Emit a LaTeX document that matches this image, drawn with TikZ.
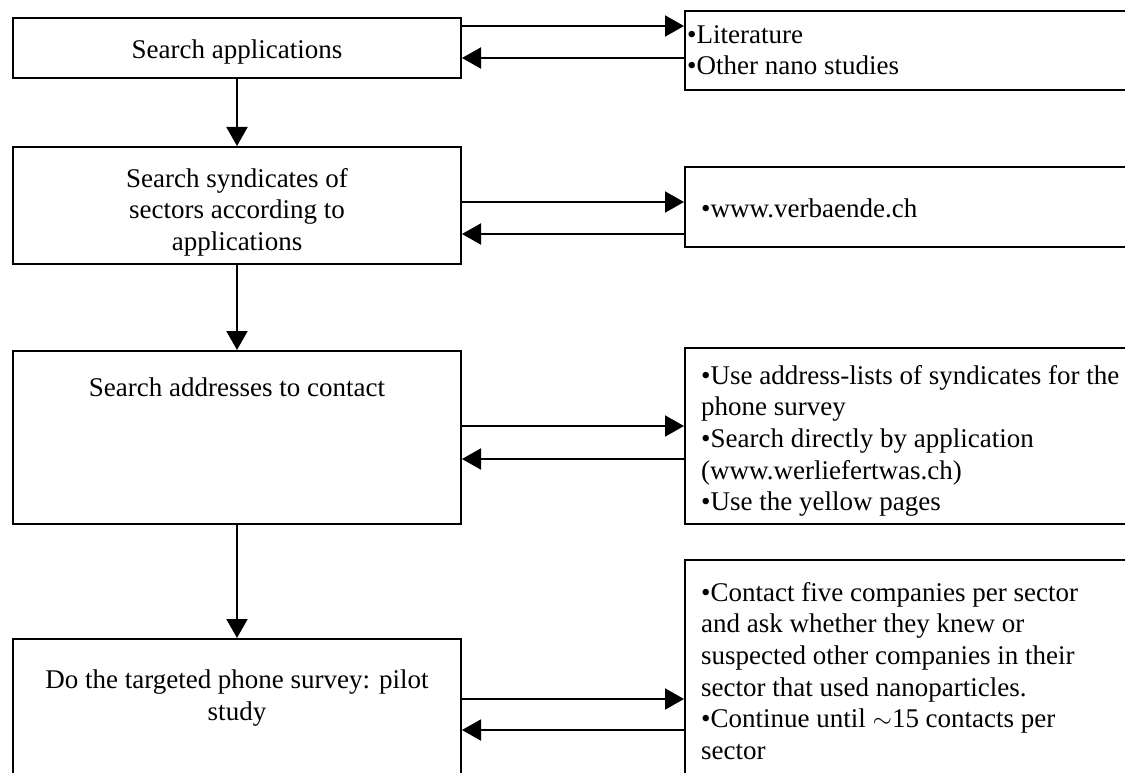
\documentclass[tikz,border=0pt]{standalone}
\usepackage{fontspec}
\setmainfont{Liberation Serif}
\usepackage{tikz}
\usetikzlibrary{arrows.meta}
\tikzset{
  leftbox/.style={draw,line width=2pt,minimum width=448pt,inner sep=0pt,anchor=north west},
  rightbox/.style={draw,line width=2pt,minimum width=442pt,inner sep=0pt,anchor=north west},
  txt/.style={font=\fontsize{27}{31.6}\selectfont,inner sep=0pt},
  flow/.style={line width=2pt,-{Triangle[length=19pt,width=21pt]}}
}

\begin{document}
\begin{tikzpicture}[x=1pt,y=-1pt]
  \useasboundingbox (0,0) rectangle (1125,773);
  \clip (0,0) rectangle (1125,773);
  % steps on the left
  \node[leftbox,minimum height=60pt] (l1) at (12,17) {};
  \node[leftbox,minimum height=117pt] (l2) at (12,146) {};
  \node[leftbox,minimum height=173pt] (l3) at (12,350) {};
  \node[leftbox,minimum height=220pt] (l4) at (12,638) {};
  \node[txt,anchor=base] (t1) at ([yshift=-42pt]l1.north) {Search applications};
  \node[txt,anchor=north,align=center] (t2) at ([yshift=-22pt]l2.north) {Search syndicates of\\sectors according to\\applications};
  \node[txt,anchor=base] (t3) at ([yshift=-46pt]l3.north) {Search addresses to contact};
  \node[txt,anchor=north,align=center] (t4) at ([yshift=-32pt]l4.north) {Do the targeted phone survey: pilot\\study};
  % sources on the right
  \node[rightbox,minimum height=79pt] (r1) at (684,10) {};
  \node[rightbox,minimum height=80pt] (r2) at (684,166) {};
  \node[rightbox,minimum height=176pt] (r3) at (684,347) {};
  \node[rightbox,minimum height=260pt] (r4) at (684,559) {};
  \node[txt,anchor=north west,align=left] (s1) at ([shift={(3,15)}]r1.north west) {\textbullet Literature\\\textbullet Other nano studies};
  \node[txt,anchor=base west] (s2) at ([shift={(17,51)}]r2.north west) {\textbullet www.verbaende.ch};
  \node[txt,anchor=north west,align=left] (s3) at ([shift={(17,18)}]r3.north west) {\textbullet Use address-lists of syndicates for the\\phone survey\\\textbullet Search directly by application\\(www.werliefertwas.ch)\\\textbullet Use the yellow pages};
  \node[txt,anchor=north west,align=left] (s4) at ([shift={(17,23)}]r4.north west) {\textbullet Contact five companies per sector\\and ask whether they knew or\\suspected other companies in their\\sector that used nanoparticles.\\\textbullet Continue until $\sim$15 contacts per\\sector};
  % flow down
  \draw[flow] (l1) -- (l2);
  \draw[flow] (l2) -- (l3);
  \draw[flow] (l3) -- (l4);
  % back and forth
  \draw[flow] (l1.east |- 0,26) -- (r1.west |- 0,26);
  \draw[flow] (r1.west |- 0,58) -- (l1.east |- 0,58);
  \draw[flow] (l2.east |- 0,202) -- (r2.west |- 0,202);
  \draw[flow] (r2.west |- 0,234) -- (l2.east |- 0,234);
  \draw[flow] (l3.east |- 0,426) -- (r3.west |- 0,426);
  \draw[flow] (r3.west |- 0,459) -- (l3.east |- 0,459);
  \draw[flow] (l4.east |- 0,699) -- (r4.west |- 0,699);
  \draw[flow] (r4.west |- 0,730) -- (l4.east |- 0,730);
\end{tikzpicture}
\end{document}
